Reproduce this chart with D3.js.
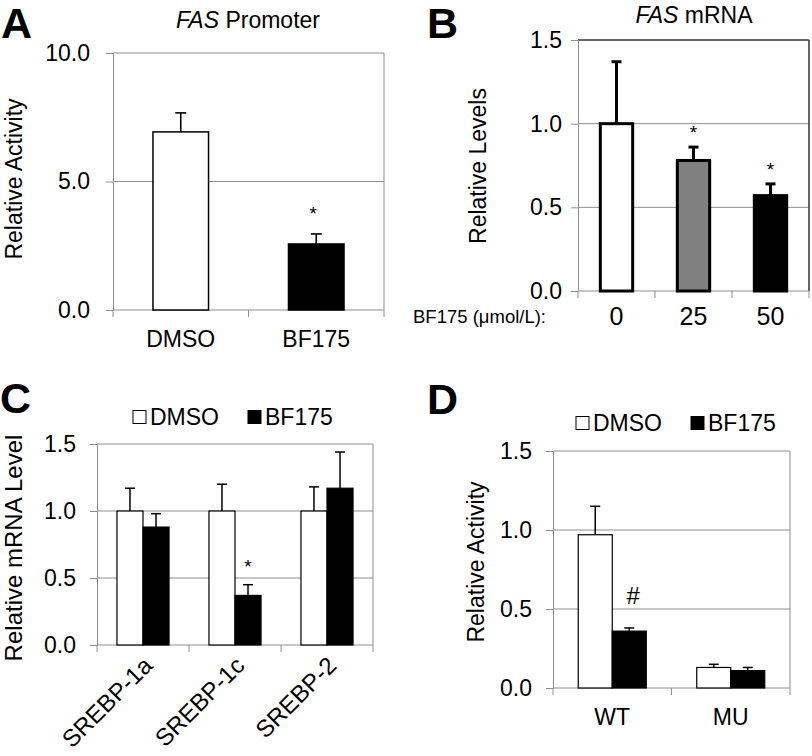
<!DOCTYPE html>
<html>
<head>
<meta charset="utf-8">
<script src="https://cdn.jsdelivr.net/npm/d3@7"></script>
<style>
  html, body { margin: 0; padding: 0; background: #fff; }
  svg { display: block; font-family: "Liberation Sans", Arial, Helvetica, sans-serif; }
</style>
</head>
<body>
<svg id="chart" width="812" height="756"></svg>
<script>
// ---------- DATA ----------
// Panel A: FAS Promoter
const catsA = ["DMSO", "BF175"];
const valsA = [6.93, 2.57];
const errA  = [0.74, 0.39];
const ticksA = [0, 5, 10];

// Panel B: FAS mRNA
const catsB = ["0", "25", "50"];
const valsB = [1.0, 0.78, 0.57];
const errB  = [0.37, 0.08, 0.07];
const ticksB = [0, 0.5, 1.0, 1.5];

// Panel C: SREBP mRNA
const catsC = ["SREBP-1a", "SREBP-1c", "SREBP-2"];
const dmsoC = [1.0, 1.0, 1.0];
const dmsoErrC = [0.17, 0.20, 0.18];
const bfC = [0.88, 0.37, 1.17];
const bfErrC = [0.10, 0.08, 0.27];
const ticksC = [0, 0.5, 1.0, 1.5];

// Panel D: promoter activity WT / MU
const catsD = ["WT", "MU"];
const dmsoD = [0.97, 0.13];
const dmsoErrD = [0.18, 0.02];
const bfD = [0.36, 0.11];
const bfErrD = [0.02, 0.02];
const ticksD = [0, 0.5, 1.0, 1.5];

const seriesNames = ["DMSO", "BF175"];

// ---------- DRAWING ----------
const svg = d3.select("#chart");
const GRID = "#8e8e8e";
const FS = 23;

function frame(g, x, y, ticks, fmt, opts) {
  const [x0, x1] = x.range();
  const [yb, yt] = y.range();
  g.selectAll(".grid").data(ticks.filter(t => t > 0)).join("line")
    .attr("x1", x0).attr("x2", x1)
    .attr("y1", d => y(d)).attr("y2", d => y(d))
    .attr("stroke", d => (opts.darkFrame && d === ticks[ticks.length-1]) ? "#333" : GRID)
    .attr("stroke-width", d => (opts.darkFrame && d === ticks[ticks.length-1]) ? 1.5 : 1);
  g.append("line").attr("x1", x1).attr("x2", x1).attr("y1", yb).attr("y2", yt)
    .attr("stroke", opts.darkFrame ? "#333" : GRID).attr("stroke-width", opts.darkFrame ? 1.5 : 1);
  const ya = d3.axisLeft(y).tickValues(ticks).tickFormat(fmt).tickSize(7).tickPadding(opts.tickPad || 14);
  const yg = g.append("g").attr("transform", `translate(${x0},0)`).call(ya);
  yg.select(".domain").attr("stroke", GRID);
  yg.selectAll(".tick line").attr("stroke", GRID);
  yg.selectAll(".tick text").attr("font-size", FS).attr("fill", "#000");
  const bounds = x.domain().map(d => x(d)).concat([x1]);
  g.append("line").attr("x1", x0).attr("x2", x1).attr("y1", yb).attr("y2", yb).attr("stroke", GRID);
  g.selectAll(".xt").data(bounds).join("line")
    .attr("x1", d => d).attr("x2", d => d).attr("y1", yb).attr("y2", yb + 7).attr("stroke", GRID);
}

function errBar(g, cx, yv, ye, y, cap, sw) {
  g.append("line").attr("x1", cx).attr("x2", cx).attr("y1", y(yv)).attr("y2", y(yv + ye))
    .attr("stroke", "#000").attr("stroke-width", sw);
  g.append("line").attr("x1", cx - cap/2).attr("x2", cx + cap/2).attr("y1", y(yv + ye)).attr("y2", y(yv + ye))
    .attr("stroke", "#000").attr("stroke-width", sw);
}

function panelLabel(t, x, y) {
  svg.append("text").attr("x", x).attr("y", y).attr("font-size", 43).attr("font-weight", "bold").text(t);
}

function yLabel(t, x, y, fs) {
  svg.append("text").attr("transform", `translate(${x},${y}) rotate(-90)`)
    .attr("text-anchor", "middle").attr("font-size", fs || FS).text(t);
}

function legend(x, y) {
  const g = svg.append("g").attr("transform", `translate(${x},${y})`);
  const items = [{n: seriesNames[0], f: "#fff", dx: 0}, {n: seriesNames[1], f: "#000", dx: 115}];
  items.forEach(it => {
    g.append("rect").attr("x", it.dx).attr("y", -6.5).attr("width", 13).attr("height", 13)
      .attr("fill", it.f).attr("stroke", "#000").attr("stroke-width", 1);
    g.append("text").attr("x", it.dx + 17).attr("y", 0).attr("dy", "0.35em")
      .attr("font-size", FS).text(it.n);
  });
}

const fmt1 = d3.format(".1f");

// ---- Panel A ----
{
  const x = d3.scaleBand().domain(catsA).range([113, 384]);
  const y = d3.scaleLinear().domain([0, 10]).range([310, 53]);
  const g = svg.append("g");
  frame(g, x, y, ticksA, fmt1, {tickPad: 16});
  const bw = x.bandwidth() * 0.41;
  const fills = ["#fff", "#000"];
  catsA.forEach((c, i) => {
    const cx = x(c) + x.bandwidth() / 2;
    errBar(g, cx, valsA[i], errA[i], y, 11, 1.6);
    g.append("rect").attr("x", cx - bw/2).attr("y", y(valsA[i])).attr("width", bw)
      .attr("height", y(0) - y(valsA[i])).attr("fill", fills[i]).attr("stroke", "#000").attr("stroke-width", 1.5);
    g.append("text").attr("x", cx).attr("y", 347).attr("text-anchor", "middle").attr("font-size", FS).text(c);
  });
  g.append("text").attr("x", x("BF175") + x.bandwidth()/2 - 3).attr("y", y(valsA[1] + errA[1]) - 14)
    .attr("text-anchor", "middle").attr("font-size", 19).text("*");
  const t = svg.append("text").attr("x", 248).attr("y", 28).attr("text-anchor", "middle").attr("font-size", FS);
  t.append("tspan").attr("font-style", "italic").text("FAS");
  t.append("tspan").text(" Promoter");
  panelLabel("A", 1, 38);
  yLabel("Relative Activity", 22, 179);
}

// ---- Panel B ----
{
  const x = d3.scaleBand().domain(catsB).range([578, 809]);
  const y = d3.scaleLinear().domain([0, 1.5]).range([291, 40]);
  const g = svg.append("g");
  frame(g, x, y, ticksB, fmt1, {darkFrame: true, tickPad: 9});
  const bw = x.bandwidth() * 0.42;
  const fills = ["#fff", "#808080", "#000"];
  catsB.forEach((c, i) => {
    const cx = x(c) + x.bandwidth() / 2;
    errBar(g, cx, valsB[i], errB[i], y, 10, 3);
    g.append("rect").attr("x", cx - bw/2).attr("y", y(valsB[i])).attr("width", bw)
      .attr("height", y(0) - y(valsB[i])).attr("fill", fills[i]).attr("stroke", "#000").attr("stroke-width", 3);
    g.append("text").attr("x", cx).attr("y", 325).attr("text-anchor", "middle").attr("font-size", 25).text(c);
    if (i > 0) g.append("text").attr("x", cx).attr("y", y(valsB[i] + errB[i]) - 8)
      .attr("text-anchor", "middle").attr("font-size", 19).text("*");
  });
  svg.append("text").attr("x", 413).attr("y", 323).attr("font-size", 18.5).text("BF175 (μmol/L):");
  const t = svg.append("text").attr("x", 694).attr("y", 23).attr("text-anchor", "middle").attr("font-size", FS);
  t.append("tspan").attr("font-style", "italic").text("FAS");
  t.append("tspan").text(" mRNA");
  panelLabel("B", 427, 38);
  yLabel("Relative Levels", 486, 166);
}

// ---- Panel C ----
{
  const x = d3.scaleBand().domain(catsC).range([97, 373]);
  const y = d3.scaleLinear().domain([0, 1.5]).range([645, 444]);
  const g = svg.append("g");
  frame(g, x, y, ticksC, fmt1, {tickPad: 14});
  const bw = x.bandwidth() * 0.283;
  catsC.forEach((c, i) => {
    const cx = x(c) + x.bandwidth() / 2;
    errBar(g, cx - bw/2, dmsoC[i], dmsoErrC[i], y, 10, 1.5);
    errBar(g, cx + bw/2, bfC[i], bfErrC[i], y, 10, 1.5);
    g.append("rect").attr("x", cx - bw).attr("y", y(dmsoC[i])).attr("width", bw)
      .attr("height", y(0) - y(dmsoC[i])).attr("fill", "#fff").attr("stroke", "#000").attr("stroke-width", 1.2);
    g.append("rect").attr("x", cx).attr("y", y(bfC[i])).attr("width", bw)
      .attr("height", y(0) - y(bfC[i])).attr("fill", "#000").attr("stroke", "#000").attr("stroke-width", 1.2);
    g.append("text").attr("transform", `translate(${cx + 11},667) rotate(-45)`)
      .attr("text-anchor", "end").attr("font-size", 24).text(c);
  });
  const cx1 = x("SREBP-1c") + x.bandwidth()/2 + bw/2;
  g.append("text").attr("x", cx1).attr("y", y(bfC[1] + bfErrC[1]) - 12)
    .attr("text-anchor", "middle").attr("font-size", 19).text("*");
  legend(133, 417);
  panelLabel("C", 0, 413);
  yLabel("Relative mRNA Level", 22, 548, 24);
}

// ---- Panel D ----
{
  const x = d3.scaleBand().domain(catsD).range([553, 790]);
  const y = d3.scaleLinear().domain([0, 1.5]).range([688, 451]);
  const g = svg.append("g");
  frame(g, x, y, ticksD, fmt1, {tickPad: 14});
  const bw = x.bandwidth() * 0.287;
  catsD.forEach((c, i) => {
    const cx = x(c) + x.bandwidth() / 2;
    errBar(g, cx - bw/2, dmsoD[i], dmsoErrD[i], y, 10, 1.5);
    errBar(g, cx + bw/2, bfD[i], bfErrD[i], y, 10, 1.5);
    g.append("rect").attr("x", cx - bw).attr("y", y(dmsoD[i])).attr("width", bw)
      .attr("height", y(0) - y(dmsoD[i])).attr("fill", "#fff").attr("stroke", "#000").attr("stroke-width", 1.2);
    g.append("rect").attr("x", cx).attr("y", y(bfD[i])).attr("width", bw)
      .attr("height", y(0) - y(bfD[i])).attr("fill", "#000").attr("stroke", "#000").attr("stroke-width", 1.2);
    g.append("text").attr("x", cx).attr("y", 725).attr("text-anchor", "middle").attr("font-size", FS).text(c);
  });
  const cxw = x("WT") + x.bandwidth()/2 + bw/2;
  g.append("text").attr("x", cxw + 4).attr("y", 604).attr("text-anchor", "middle").attr("font-size", 24).text("#");
  legend(576, 423);
  panelLabel("D", 427, 414);
  yLabel("Relative Activity", 484, 562);
}
</script>
</body>
</html>
